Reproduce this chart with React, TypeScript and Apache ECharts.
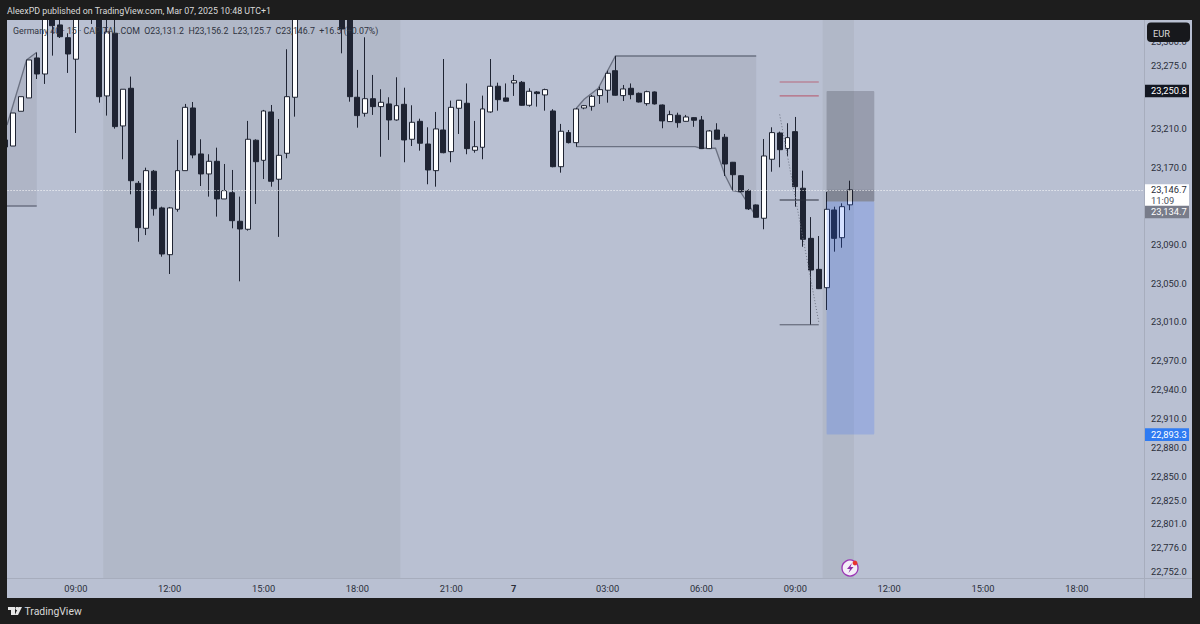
import React, { useEffect, useRef } from "react";
import * as echarts from "echarts";

const FONT = "Roboto, sans-serif";
const INK = "#1f2433";
const BG = "#b9c0d2";
const FRAME = "#1d1d1d";

// [open, close, low, high] for the bars from 06:45 on Mar 6 to 10:45 on Mar 7
const day6Morning = [
  [23198.4, 23191.1, 23188, 23203.6], [23192.1, 23226.3, 23192.1, 23226.3], [23228.1, 23243.2, 23228.1, 23243.2],
  [23241.9, 23281.2, 23241.9, 23281.2], [23283.3, 23266.7, 23261.5, 23288.8], [23266.7, 23350, 23256.4, 23360],
  [23350, 23316.7, 23285.7, 23355], [23317.5, 23305.3, 23304, 23325], [23304.3, 23287.4, 23267.8, 23308.9],
  [23282, 23340, 23205.6, 23350], [23345, 23375, 23330, 23385], [23370, 23335, 23318.5, 23380],
  [23335, 23243.2, 23237, 23345], [23244, 23310.2, 23223.6, 23340], [23308.9, 23212.2, 23210.1, 23335],
  [23212.9, 23250.9, 23178.4, 23250.9], [23251.9, 23156.2, 23142.1, 23264], [23153.5, 23107.6, 23093, 23155.9],
  [23106.9, 23166.6, 23099.9, 23169.7], [23166, 23127.2, 23120, 23167.3], [23128, 23080.3, 23077.5, 23129.3],
  [23079.6, 23128, 23059.6, 23129], [23126.6, 23166.6, 23124.1, 23198.4], [23166.6, 23232.2, 23166.6, 23235.7],
];
const day6Midday = [
  [23231.5, 23182.8, 23179.4, 23237.7], [23183.9, 23163.2, 23150.7, 23199.1], [23163.2, 23176.3, 23139.7, 23183.6],
  [23176.3, 23137.3, 23119, 23190.4], [23137.3, 23145.9, 23137.3, 23173.5], [23143.8, 23114.8, 23106.9, 23167.3],
  [23114.2, 23106.2, 23052, 23139.7], [23105.9, 23199.1, 23104.5, 23218.1], [23198.1, 23175.9, 23132.1, 23199.1],
  [23177.3, 23228.4, 23157.9, 23229.5], [23227.4, 23155.6, 23150, 23234.6], [23157.7, 23182.5, 23098, 23220.1],
  [23184.6, 23243.2, 23179.4, 23292.3], [23242.6, 23340, 23222.5, 23350], [23340, 23360, 23330, 23372],
  [23360, 23345, 23332, 23378], [23345, 23365, 23335, 23380], [23365, 23350, 23338, 23376],
  [23350, 23370, 23340, 23385], [23350, 23313.3, 23288.1, 23365],
  [23330, 23243.2, 23238, 23340], [23242.6, 23223.6, 23211.1, 23270.9], [23226, 23241.1, 23222.5, 23304.7],
];
const day6Evening = [
  [23241.1, 23232.9, 23224.3, 23265.7], [23232.9, 23237.4, 23181, 23250.9], [23235.7, 23219.1, 23198.4, 23242.6],
  [23219.1, 23233.9, 23218.4, 23263.3], [23235.3, 23198.4, 23175.3, 23252.5], [23199.1, 23216.7, 23192.1, 23234.3],
  [23217.7, 23195, 23187.3, 23220.4], [23194.2, 23167.3, 23152.5, 23211.5], [23166.6, 23209.8, 23150, 23227.4],
  [23208.7, 23185.2, 23184.6, 23282.2], [23186.3, 23232.2, 23175.3, 23239.1], [23231.2, 23239.5, 23204.6, 23239.8],
  [23236.4, 23189.4, 23183.6, 23256.9], [23187.7, 23191.4, 23185.2, 23218.1], [23190.8, 23230.5, 23178.4, 23244.3],
  [23227.4, 23254, 23226.6, 23282.2], [23254, 23240.1, 23228.7, 23257.7], [23241.9, 23238.5, 23238, 23256.9],
];
const day7Night = [
  [23257.4, 23259.8, 23244, 23265.7], [23258.1, 23234.3, 23233.9, 23259.4], [23234.3, 23248.8, 23232.9, 23251.9],
  [23248.1, 23246.4, 23232.9, 23249], [23245, 23250.5, 23228.7, 23251.5], [23228.4, 23170.7, 23170.1, 23230.2],
  [23170.7, 23207.4, 23164.5, 23215], [23206, 23195.6, 23194.8, 23208.7], [23195.6, 23230.5, 23191.4, 23231.5],
  [23231.5, 23233.9, 23230.2, 23234.6], [23233.2, 23243.6, 23228.7, 23245], [23244.3, 23250.5, 23235.7, 23253.6],
  [23249.9, 23267.4, 23237, 23270.1], [23270.1, 23244.7, 23244.3, 23285.3], [23244.3, 23251.2, 23238.7, 23255.3],
  [23251.9, 23245.3, 23240.5, 23256.9], [23246.7, 23237.7, 23237.2, 23247.5], [23236, 23248.4, 23233.9, 23249.4],
  [23248.1, 23235.7, 23235.1, 23248.6], [23234.6, 23218.1, 23210.5, 23235.1], [23217.4, 23224.6, 23217, 23228.7],
  [23224, 23216.3, 23211.1, 23226.6], [23217.7, 23222.2, 23217.4, 23224.3], [23221.5, 23218.8, 23212, 23221.9],
];
const day7Morning = [
  [23219.1, 23189.4, 23189, 23223.2], [23189.4, 23207.7, 23189, 23208.7], [23208.7, 23199.1, 23198.7, 23215.7],
  [23201.2, 23173.5, 23161.1, 23204.6], [23175.3, 23162.4, 23146.6, 23175.6], [23161.4, 23144.8, 23144.2, 23162.1],
  [23145.9, 23127, 23125.9, 23147.3], [23131.1, 23118.3, 23117.9, 23131.6], [23117.3, 23181.8, 23105.9, 23199.4],
  [23178.4, 23206, 23165.5, 23211.5], [23205.6, 23188.3, 23170.1, 23207], [23189.4, 23200.8, 23181.8, 23215.7],
  [23207, 23150, 23129.3, 23222.2], [23148.4, 23095.5, 23087.8, 23166.6], [23096.5, 23063.7, 23006.8, 23118.5],
  [23064.4, 23044.4, 23044, 23098.9], [23045.4, 23126.6, 23022.3, 23144.5], [23125.9, 23096.5, 23082.7, 23129.3],
  [23097.2, 23129.3, 23086.8, 23132.8], [23131.2, 23146.7, 23125.7, 23156.2],
];
const candles = [...day6Morning, ...day6Midday, ...day6Evening, ...day7Night, ...day7Morning];

const barCount = 146;
const labelledTimes = ["09:00", "12:00", "15:00", "18:00", "21:00", "7", "03:00", "06:00"];
const priceTicks = [23300, 23275, 23210, 23170, 23090, 23050, 23010, 22970, 22940, 22910, 22880, 22850, 22825, 22801, 22776, 22752];

// Annotation points are [bar number counted from 07:00, price]
const sessionBands = [[11.5, 49.5], [103.5, 107.5]];
const leftZone = [[-0.8, 23213.9], [1.7, 23281.2], [3, 23289.2]];
const leftZoneFloor = 23130;
const midZoneTop = [[72, 23231.2], [73, 23240.5], [74.8, 23251.9], [77, 23285.3], [95, 23285.3]];
const midZoneBottom = [[72, 23191.4], [87.2, 23191.4], [87.9, 23189.8], [89.8, 23189.8], [91, 23162.1], [92, 23145.9], [93, 23144.5], [95, 23119]];
const redLevels = [23258.4, 23244];
const darkLevels = [23136.2, 23007];
const levelSpan = [98, 103];
const dottedLeg = [[98, 23224.8], [103, 23010]];
const positionSpan = [104, 110.1];
const stopPrice = 23250.8;
const stopEdge = 23249.2;
const entryPrice = 23134.7;
const targetPrice = 22893.3;
const lastPrice = 23146.7;

const timeOf = (i: number): string => {
  const k = i - 1;
  const minutes = k <= 63 ? 7 * 60 + 15 * k : (k - 64) * 15;
  if (k === 64) return "7";
  const h = Math.floor(minutes / 60);
  const m = minutes % 60;
  return `${String(h).padStart(2, "0")}:${String(m).padStart(2, "0")}`;
};
const categories = Array.from({ length: barCount }, (_, i) => timeOf(i));

const money = (v: number) => v.toLocaleString("en-US", { minimumFractionDigits: 1, maximumFractionDigits: 1 });

function shapeSeries(z: number, draw: (api: any) => any) {
  return {
    type: "custom",
    xAxisIndex: 1,
    yAxisIndex: 0,
    z,
    silent: true,
    clip: true,
    data: [[0, 0]],
    encode: { x: 0, y: 1 },
    renderItem: (_: any, api: any) => draw(api),
  };
}

const pts = (api: any, list: number[][]) => list.map((p) => api.coord(p));
const edge = "#6b7182";
const SMALL = 9.3;

export default function App() {
  const ref = useRef<HTMLDivElement>(null);
  useEffect(() => {
    const chart = echarts.init(ref.current!, undefined, { renderer: "svg" });
    const top = 20;
    const height = 558;
    chart.setOption({
      animation: false,
      backgroundColor: BG,
      textStyle: { fontFamily: FONT },
      grid: { left: 1.57, top, width: 1141.72, height },
      xAxis: [
        {
          type: "category",
          data: categories,
          boundaryGap: true,
          axisLine: { show: false },
          axisTick: { show: false },
          splitLine: { show: false },
          axisLabel: {
            interval: (_: number, v: string) => labelledTimes.includes(v),
            margin: 6,
            fontSize: SMALL,
            fontFamily: FONT,
            color: "#2a2e39",
            formatter: (v: string) => (v === "7" ? "{d|7}" : v),
            rich: { d: { fontWeight: "bold", fontSize: SMALL, color: "#2a2e39", fontFamily: FONT } },
          },
        },
        { type: "value", min: -1.5, max: 144.5, show: false },
      ],
      yAxis: {
        type: "value",
        position: "right",
        min: 22744.8,
        max: 23322.6,
        scale: true,
        axisLine: { show: false },
        axisTick: { show: false },
        splitLine: { show: false },
        axisLabel: {
          customValues: priceTicks,
          align: "left",
          margin: 7.7,
          fontSize: SMALL,
          fontFamily: FONT,
          color: "#2a2e39",
          formatter: (v: number) => money(v),
        },
      },
      series: [
        shapeSeries(0, (api) => ({
          type: "group",
          children: sessionBands.map(([a, b]) => {
            const p0 = api.coord([a, 23322.6]);
            const p1 = api.coord([b, 22744.8]);
            return { type: "rect", shape: { x: p0[0], y: p0[1], width: p1[0] - p0[0], height: p1[1] - p0[1] }, style: { fill: "rgba(120,122,118,0.11)" } };
          }),
        })),
        shapeSeries(1, (api) => {
          const leftTop = pts(api, leftZone);
          const rightBase = api.coord([leftZone[2][0], leftZoneFloor]);
          const leftBase = api.coord([leftZone[0][0] - 1, leftZoneFloor]);
          const midTop = pts(api, midZoneTop);
          const midBottom = pts(api, midZoneBottom);
          return {
            type: "group",
            children: [
              { type: "polygon", shape: { points: [[leftBase[0], leftTop[0][1]], ...leftTop, rightBase, leftBase] }, style: { fill: "rgba(110,112,125,0.13)" } },
              { type: "polygon", shape: { points: [...midTop, ...midBottom.slice().reverse()] }, style: { fill: "rgba(110,112,125,0.13)" } },
              { type: "polyline", shape: { points: leftTop }, style: { fill: "none", stroke: edge, lineWidth: 1.3 } },
              { type: "line", shape: { x1: leftBase[0], y1: leftBase[1], x2: rightBase[0], y2: rightBase[1] }, style: { stroke: edge, lineWidth: 1.3 } },
              { type: "polyline", shape: { points: midTop }, style: { fill: "none", stroke: edge, lineWidth: 1.3 } },
              { type: "polyline", shape: { points: midBottom }, style: { fill: "none", stroke: edge, lineWidth: 1.3 } },
            ],
          };
        }),
        {
          type: "candlestick",
          name: "Germany 40",
          xAxisIndex: 0,
          yAxisIndex: 0,
          z: 2,
          barWidth: 5.4,
          data: candles,
          itemStyle: { color: "#ffffff", color0: INK, borderColor: INK, borderColor0: INK, borderWidth: 1 },
          markLine: {
            silent: true,
            symbol: "none",
            animation: false,
            label: { show: false },
            lineStyle: { color: "#ffffff", type: [1, 2], width: 1, opacity: 0.95 },
            data: [{ yAxis: lastPrice }],
          },
        },
        shapeSeries(3, (api) => {
          const [x0, x1] = positionSpan;
          const a = api.coord([x0, stopEdge]);
          const b = api.coord([x1, entryPrice]);
          const c = api.coord([x1, targetPrice]);
          const last = api.coord([x0, lastPrice]);
          const w = b[0] - a[0];
          return {
            type: "group",
            children: [
              { type: "rect", shape: { x: a[0], y: a[1], width: w, height: b[1] - a[1], r: 1 }, style: { fill: "rgba(20,20,28,0.2)" } },
              { type: "rect", shape: { x: a[0], y: last[1], width: w, height: b[1] - last[1] }, style: { fill: "rgba(20,20,28,0.13)" } },
              { type: "rect", shape: { x: a[0], y: b[1], width: w, height: c[1] - b[1], r: 1 }, style: { fill: "rgba(41,98,255,0.2)" } },
            ],
          };
        }),
        shapeSeries(4, (api) => {
          const line = (v: number, stroke: string, w: number) => {
            const p = api.coord([levelSpan[0], v]);
            const q = api.coord([levelSpan[1], v]);
            return { type: "line", shape: { x1: p[0], y1: p[1], x2: q[0], y2: q[1] }, style: { stroke, lineWidth: w } };
          };
          const d = pts(api, dottedLeg);
          return {
            type: "group",
            children: [
              ...redLevels.map((v) => line(v, "#b8687c", 1.2)),
              line(darkLevels[0], "#2b2f3d", 1),
              line(darkLevels[1], "#555a6b", 1),
              { type: "line", shape: { x1: d[0][0], y1: d[0][1], x2: d[1][0], y2: d[1][1] }, style: { stroke: "#6e7484", lineWidth: 1, lineDash: [1, 2] } },
            ],
          };
        }),
      ],
    });

    const py = (v: number) => chart.convertToPixel({ yAxisIndex: 0 }, v) as number;
    const tag = (v: number, fill: string, color: string, shift = 0) => {
      const y = py(v) + shift;
      return [
        { type: "rect", z: 60, shape: { x: 1145, y: y - 6.3, width: 44, height: 12.6 }, style: { fill } },
        { type: "text", z: 61, style: { x: 1151, y, text: money(v), fill: color, font: `${SMALL}px ${FONT}`, textVerticalAlign: "middle" } },
      ];
    };
    const lastY = py(lastPrice);

    chart.setOption({
      graphic: [
        { type: "rect", z: 50, shape: { x: 1144, y: 20, width: 1, height: 578 }, style: { fill: "#a7adbd" } },
        { type: "rect", z: 50, shape: { x: 7, y: 578, width: 1185, height: 1 }, style: { fill: "#a7adbd" } },
        { type: "rect", z: 50, shape: { x: 0, y: 0, width: 1200, height: 20 }, style: { fill: FRAME } },
        { type: "rect", z: 50, shape: { x: 0, y: 0, width: 7, height: 624 }, style: { fill: FRAME } },
        { type: "rect", z: 50, shape: { x: 1192, y: 0, width: 8, height: 624 }, style: { fill: FRAME } },
        { type: "rect", z: 50, shape: { x: 0, y: 598, width: 1200, height: 26 }, style: { fill: FRAME } },
        { type: "text", z: 51, style: { x: 7, y: 10.5, text: "AleexPD published on TradingView.com, Mar 07, 2025 10:48 UTC+1", fill: "#d9d9d9", font: `8.85px ${FONT}`, textVerticalAlign: "middle" } },
        { type: "text", z: 5, style: { x: 13, y: 31, text: "Germany 40 · 15 · CAPITAL.COM  O23,131.2  H23,156.2  L23,125.7  C23,146.7  +16.5 (+0.07%)", fill: "#2f3340", font: `8.8px ${FONT}`, textVerticalAlign: "middle" } },
        { type: "rect", z: 55, shape: { x: 1147, y: 22.5, width: 43, height: 19.5, r: 4 }, style: { fill: "#17181c" } },
        { type: "text", z: 56, style: { x: 1153, y: 33, text: "EUR", fill: "#d9d9d9", font: `${SMALL}px ${FONT}`, textVerticalAlign: "middle" } },
        ...tag(stopPrice, "#131722", "#ffffff", 1.6),
        { type: "rect", z: 60, shape: { x: 1145, y: lastY - 5.7, width: 44, height: 23 }, style: { fill: "#ffffff" } },
        { type: "text", z: 61, style: { x: 1151, y: lastY, text: money(lastPrice), fill: "#2a2e39", font: `${SMALL}px ${FONT}`, textVerticalAlign: "middle" } },
        { type: "text", z: 61, style: { x: 1151, y: lastY + 10.5, text: "11:09", fill: "#4a4f5c", font: `${SMALL}px ${FONT}`, textVerticalAlign: "middle" } },
        ...tag(entryPrice, "#787c8a", "#ffffff", 10.5),
        ...tag(targetPrice, "#2f7bf2", "#ffffff"),
        { type: "circle", z: 40, shape: { cx: 850, cy: 568, r: 8 }, style: { fill: "#f4eef8", stroke: "#9b35b5", lineWidth: 1.3 } },
        { type: "polygon", z: 41, shape: { points: [[852, 563], [847, 569], [850, 569], [848.5, 573], [853.5, 567], [850.5, 567]] }, style: { fill: "#8d2fa8" } },
        { type: "circle", z: 42, shape: { cx: 855, cy: 563, r: 2.4 }, style: { fill: "#e8342f" } },
        { type: "rect", z: 52, shape: { x: 8, y: 607, width: 7, height: 3 }, style: { fill: "#e6e6e6" } },
        { type: "rect", z: 52, shape: { x: 11, y: 607, width: 4, height: 8 }, style: { fill: "#e6e6e6" } },
        { type: "circle", z: 52, shape: { cx: 17, cy: 608.5, r: 1.6 }, style: { fill: "#e6e6e6" } },
        { type: "polygon", z: 52, shape: { points: [[18.5, 607], [22, 607], [18, 615], [14.8, 615]] }, style: { fill: "#e6e6e6" } },
        { type: "text", z: 52, style: { x: 24.5, y: 611, text: "TradingView", fill: "#d9d9d9", font: `10.4px ${FONT}`, textVerticalAlign: "middle" } },
      ],
    });
    return () => chart.dispose();
  }, []);
  return <div ref={ref} style={{ position: "fixed", left: 0, top: 0, width: 1200, height: 624 }} />;
}
